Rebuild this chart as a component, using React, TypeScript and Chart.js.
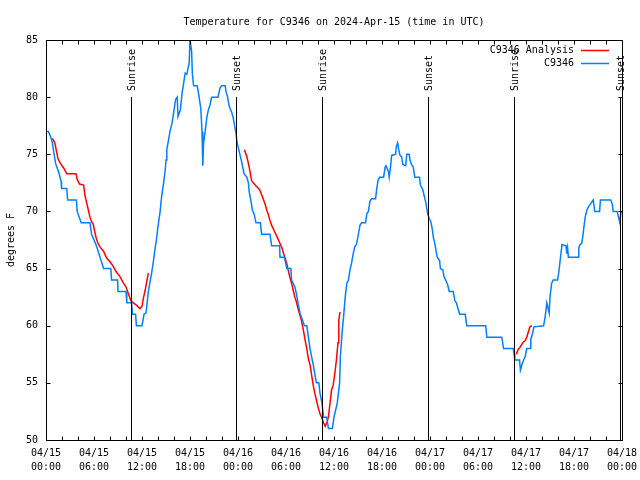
import React, { useEffect, useRef } from "react";
import { Chart, registerables } from "chart.js";

Chart.register(...registerables);

// ---- data (hours since 2024-04-15 00:00 UTC, degrees F) ----
const chartTitle = "Temperature for C9346 on 2024-Apr-15 (time in UTC)";
const yAxisTitle = "degrees F";
const seriesNames = ["C9346 Analysis", "C9346"];

const xTickHours = [0, 6, 12, 18, 24, 30, 36, 42, 48, 54, 60, 66, 72];
const xTickDates = ["04/15", "04/15", "04/15", "04/15", "04/16", "04/16", "04/16", "04/16", "04/17", "04/17", "04/17", "04/17", "04/18"];
const xTickTimes = ["00:00", "06:00", "12:00", "18:00", "00:00", "06:00", "12:00", "18:00", "00:00", "06:00", "12:00", "18:00", "00:00"];
const yTicks = [50, 55, 60, 65, 70, 75, 80, 85];

const sunEventHours = [10.6, 23.75, 34.5, 47.75, 58.5, 71.75];
const sunEventLabels = ["Sunrise", "Sunset", "Sunrise", "Sunset", "Sunrise", "Sunset"];
const sunLineTopValue = 80;

const observed: [number, number][] = [
  [0, 77], [0.3, 77], [0.6, 76.5], [0.8, 76], [0.9, 75.5], [1.2, 74.2], [1.6, 73.4], [1.9, 72.6], [1.95, 72],
  [2.6, 72], [2.7, 71], [3.8, 71], [3.9, 70], [4.4, 69], [5.5, 69], [5.7, 68], [6.3, 67], [6.75, 66],
  [7.2, 65], [8.1, 65], [8.2, 64], [8.95, 64], [9.0, 63], [10.0, 63], [10.1, 62], [10.7, 62], [10.8, 61],
  [11.2, 61], [11.3, 60], [12.0, 60], [12.25, 61], [12.5, 61.1], [12.8, 63], [13.2, 64.6], [13.4, 65.5],
  [13.6, 66.6], [13.8, 67.5], [14.0, 68.7], [14.25, 69.9], [14.45, 71.3], [14.7, 72.5], [14.9, 73.6],
  [15.0, 74.5], [15.1, 75.4], [15.3, 76.2], [15.5, 77], [15.75, 77.7], [15.95, 78.6], [16.2, 79.8],
  [16.4, 80], [16.5, 78.3], [16.8, 78.9], [17.0, 80.3], [17.2, 81.2], [17.4, 82.1], [17.6, 82], [17.9, 83],
  [18.0, 85], [18.2, 84], [18.3, 82], [18.45, 81], [18.9, 81], [19.1, 80.2], [19.35, 79], [19.5, 77],
  [19.6, 74], [19.7, 76], [19.9, 77], [20.1, 78.2], [20.3, 78.9], [20.5, 79.3], [20.7, 80], [21.5, 80],
  [21.75, 80.8], [21.95, 81], [22.4, 81], [22.5, 80.5], [22.7, 80], [22.9, 79.2], [23.2, 78.7], [23.4, 78.2],
  [23.6, 77.4], [23.75, 76.8], [23.9, 76], [24.2, 75.1], [24.5, 74.2], [24.75, 73.3], [25.1, 73],
  [25.3, 72.5], [25.4, 71.7], [25.6, 71], [25.8, 70.1], [26.0, 69.8], [26.25, 69], [26.8, 69], [26.95, 68],
  [28.0, 68], [28.2, 67], [29.2, 67], [29.25, 66], [29.8, 66], [30.1, 65], [30.6, 65], [30.7, 64],
  [31.1, 63.4], [31.3, 62.8], [31.5, 62], [31.75, 61.1], [32.3, 60], [32.6, 60], [32.8, 59], [33.0, 58],
  [33.2, 57.3], [33.4, 56.6], [33.6, 55.8], [33.8, 55], [34.1, 55], [34.25, 54.1], [34.5, 53.2], [34.7, 52],
  [35.1, 52], [35.3, 51], [35.8, 51], [36.0, 52], [36.4, 53.2], [36.5, 53.8], [36.7, 55], [36.8, 57.3],
  [37.0, 59.3], [37.2, 60.8], [37.4, 62.5], [37.6, 63.7], [37.8, 64], [38.0, 64.9], [38.2, 65.5],
  [38.4, 66.3], [38.6, 66.9], [38.8, 67.1], [39.0, 67.8], [39.25, 68.8], [39.45, 69], [39.95, 69],
  [40.1, 69.8], [40.3, 70], [40.5, 70.9], [40.7, 71.1], [41.2, 71.1], [41.33, 71.9], [41.5, 72.7],
  [41.7, 73], [42.2, 73], [42.4, 73.9], [42.5, 74], [42.8, 73.5], [42.9, 73], [43.1, 74.1], [43.2, 74.9],
  [43.7, 75], [43.8, 75.7], [43.95, 76], [44.1, 75.4], [44.25, 74.9], [44.45, 74.8], [44.6, 74.1],
  [44.96, 74], [45.1, 75], [45.4, 75], [45.5, 74.5], [45.7, 74.1], [45.9, 73.9], [46.1, 73], [46.7, 73],
  [46.8, 72.3], [47.1, 71.9], [47.3, 71.3], [47.5, 70.7], [47.7, 69.8], [47.9, 69.4], [48.1, 69.1],
  [48.3, 68.4], [48.4, 67.8], [48.6, 67.2], [48.75, 66.6], [48.9, 66], [49.2, 65.7], [49.3, 65],
  [49.6, 64.9], [49.75, 64.3], [49.95, 64], [50.2, 63.6], [50.4, 63], [50.9, 63], [51.1, 62.2], [51.3, 62],
  [51.7, 61], [52.4, 61], [52.6, 60], [54.97, 60], [55.1, 59], [56.97, 59], [57.2, 58], [58.4, 58],
  [58.5, 57.6], [58.6, 57], [59.2, 57], [59.3, 56.1], [59.5, 56.6], [59.7, 57], [59.9, 57.3], [60.1, 58],
  [60.5, 58], [60.6, 58.8], [60.8, 59.3], [61.0, 59.9], [62.2, 60], [62.4, 60.8], [62.6, 62], [62.9, 61.1],
  [63.0, 62.5], [63.2, 63.7], [63.4, 64], [63.95, 64], [64.1, 64.7], [64.25, 65.6], [64.4, 66.5],
  [64.5, 67.1], [65.0, 67], [65.1, 66.3], [65.2, 66.8], [65.3, 66], [66.5, 66], [66.6, 66.8], [66.75, 67.1],
  [66.96, 67.2], [67.1, 67.8], [67.25, 68.7], [67.4, 69.5], [67.6, 70.1], [67.8, 70.4], [68.0, 70.6],
  [68.2, 70.8], [68.4, 71], [68.6, 70], [69.2, 70], [69.3, 71], [70.6, 71], [70.8, 70.6], [70.9, 70],
  [71.4, 70], [71.5, 69.7], [71.7, 69.1], [71.9, 70],
];

const analysisSeg1: [number, number][] = [
  [0.8, 76.4], [1.1, 76], [1.3, 75.3], [1.5, 74.6], [1.8, 74.2], [2.2, 73.8], [2.6, 73.3], [3.75, 73.3],
  [3.9, 72.8], [4.2, 72.4], [4.7, 72.3], [4.9, 71.3], [5.1, 70.7], [5.3, 70.1], [5.5, 69.5], [5.7, 69.1],
  [5.9, 68.9], [6.1, 68.2], [6.3, 67.6], [6.5, 67.2], [6.75, 66.9], [7.2, 66.5], [7.6, 65.9], [8.0, 65.6],
  [8.4, 65.2], [8.8, 64.7], [9.25, 64.3], [9.7, 63.7], [10.0, 63.4], [10.3, 62.8], [10.6, 62.2],
  [10.9, 62], [11.3, 61.8], [11.75, 61.5], [12.0, 61.7], [12.2, 62.5], [12.4, 63.1], [12.6, 63.9], [12.8, 64.6],
];
const analysisSeg2: [number, number][] = [
  [24.8, 75.4], [25.1, 74.8], [25.3, 74.2], [25.5, 73.5], [25.7, 72.7], [25.9, 72.5], [26.3, 72.2],
  [26.7, 71.9], [27.0, 71.4], [27.2, 71.0], [27.4, 70.6], [27.6, 70.1], [27.8, 69.7], [28.0, 69.2],
  [28.2, 68.8], [28.4, 68.5], [28.6, 68.2], [28.8, 67.9], [29.0, 67.6], [29.25, 67.2], [29.5, 66.8],
  [29.7, 66.3], [29.9, 65.9], [30.1, 65.4], [30.3, 64.8], [30.5, 64.2], [30.7, 63.7], [30.9, 63.1],
  [31.1, 62.5], [31.3, 62.1], [31.5, 61.5], [31.75, 60.9], [31.95, 60.4], [32.2, 59.5], [32.4, 58.7],
  [32.6, 58], [32.8, 57.1], [33.0, 56.6], [33.2, 55.7], [33.4, 54.8], [33.6, 54.1], [33.8, 53.5],
  [34.0, 52.9], [34.25, 52.3], [34.5, 51.9], [34.7, 51.5], [34.9, 51.2], [35.1, 51.5], [35.3, 52],
  [35.5, 53.2], [35.7, 54.4], [35.9, 54.8], [36.1, 55.8], [36.3, 57], [36.5, 58.5], [36.6, 60.5], [36.75, 61.2],
];
const analysisSeg3: [number, number][] = [
  [58.8, 57.5], [59.0, 57.9], [59.25, 58.1], [59.5, 58.4], [59.7, 58.6], [59.9, 58.7], [60.1, 59],
  [60.3, 59.5], [60.5, 59.9], [60.75, 60],
];

const RED = "#ff0000";
const BLUE = "#0080ff";
const FONT_FAMILY = '"DejaVu Sans Mono", "Liberation Mono", monospace';
const FONT_SIZE = 10;

const toPts = (a: [number, number][]) => a.map(([x, y]) => ({ x, y }));

const gnuplotPlugin = {
  id: "gnuplotDecor",
  afterDatasetsDraw(chart: any) {
    const { ctx, chartArea, scales } = chart;
    const xs = scales.x;
    const ys = scales.y;
    ctx.save();
    ctx.strokeStyle = "#000";
    ctx.fillStyle = "#000";
    ctx.lineWidth = 1;
    ctx.font = `${FONT_SIZE}px ${FONT_FAMILY}`;
    const top = Math.round(ys.getPixelForValue(sunLineTopValue));
    sunEventHours.forEach((h, i) => {
      const x = Math.round(xs.getPixelForValue(h)) + 0.5;
      ctx.beginPath();
      ctx.moveTo(x, top);
      ctx.lineTo(x, chartArea.bottom);
      ctx.stroke();
      ctx.save();
      ctx.translate(x + 1, top - 6);
      ctx.rotate(-Math.PI / 2);
      ctx.textAlign = "left";
      ctx.textBaseline = "middle";
      ctx.fillText(sunEventLabels[i], 0, 0);
      ctx.restore();
    });
    ctx.restore();
  },
  afterDraw(chart: any) {
    const { ctx, chartArea, scales } = chart;
    const xs = scales.x;
    const ys = scales.y;
    const L = Math.round(chartArea.left) + 0.5;
    const R = Math.round(chartArea.right) + 0.5;
    const T = Math.round(chartArea.top) + 0.5;
    const B = Math.round(chartArea.bottom) + 0.5;
    ctx.save();
    ctx.strokeStyle = "#000";
    ctx.lineWidth = 1;
    ctx.beginPath();
    ctx.rect(L, T, R - L, B - T);
    ctx.stroke();
    ctx.beginPath();
    for (let h = 0; h <= 72; h += 2) {
      const x = Math.round(xs.getPixelForValue(h)) + 0.5;
      ctx.moveTo(x, B);
      ctx.lineTo(x, B - 4);
      ctx.moveTo(x, T);
      ctx.lineTo(x, T + 4);
    }
    yTicks.forEach((v) => {
      const y = Math.round(ys.getPixelForValue(v)) + 0.5;
      ctx.moveTo(L, y);
      ctx.lineTo(L + 4, y);
      ctx.moveTo(R, y);
      ctx.lineTo(R - 4, y);
    });
    ctx.stroke();

    ctx.fillStyle = "#000";
    ctx.font = `${FONT_SIZE}px ${FONT_FAMILY}`;
    ctx.textAlign = "center";
    ctx.textBaseline = "middle";
    ctx.fillText(chartTitle, (chartArea.left + chartArea.right) / 2, 22);
    ctx.save();
    ctx.translate(11, (chartArea.top + chartArea.bottom) / 2);
    ctx.rotate(-Math.PI / 2);
    ctx.fillText(yAxisTitle, 0, 0);
    ctx.restore();
    const colors = [RED, BLUE];
    seriesNames.forEach((name, i) => {
      const y = 50 + i * 13;
      ctx.fillStyle = "#000";
      ctx.textAlign = "right";
      ctx.fillText(name, 574, y);
      ctx.strokeStyle = colors[i];
      ctx.lineWidth = 1.5;
      ctx.beginPath();
      ctx.moveTo(581, y + 0.5);
      ctx.lineTo(609, y + 0.5);
      ctx.stroke();
    });
    ctx.restore();
  },
};

export default function App() {
  const canvasRef = useRef<HTMLCanvasElement | null>(null);

  useEffect(() => {
    if (!canvasRef.current) return;
    const redData: any[] = [
      ...toPts(analysisSeg1),
      { x: 18, y: null },
      ...toPts(analysisSeg2),
      { x: 48, y: null },
      ...toPts(analysisSeg3),
    ];
    const font = { family: FONT_FAMILY, size: FONT_SIZE, lineHeight: 1.4 };
    const chart = new Chart(canvasRef.current, {
      type: "line",
      data: {
        datasets: [
          {
            label: seriesNames[0],
            data: redData,
            borderColor: RED,
            borderWidth: 1.5,
            pointRadius: 0,
            spanGaps: false,
            fill: false,
            tension: 0,
            order: 1,
          },
          {
            label: seriesNames[1],
            data: toPts(observed),
            borderColor: BLUE,
            borderWidth: 1.5,
            pointRadius: 0,
            fill: false,
            tension: 0,
            order: 0,
          },
        ],
      },
      options: {
        animation: false,
        responsive: false,
        devicePixelRatio: 1,
        layout: { padding: { top: 40, right: 18, left: 0, bottom: 0 } },
        plugins: {
          legend: { display: false },
          tooltip: { enabled: false },
          title: { display: false },
        },
        events: [],
        scales: {
          x: {
            type: "linear",
            min: 0,
            max: 72,
            afterBuildTicks: (s: any) => {
              s.ticks = xTickHours.map((v) => ({ value: v }));
            },
            afterFit: (s: any) => {
              s.height = 40;
              s.paddingLeft = 0;
              s.paddingRight = 0;
            },
            ticks: {
              autoSkip: false,
              maxRotation: 0,
              minRotation: 0,
              padding: 6,
              color: "#000",
              font,
              callback: (_v: any, i: number) => [xTickDates[i], xTickTimes[i]],
            },
            grid: { display: false, drawTicks: false },
            border: { display: false },
          },
          y: {
            type: "linear",
            min: 50,
            max: 85,
            afterBuildTicks: (s: any) => {
              s.ticks = yTicks.map((v) => ({ value: v }));
            },
            afterFit: (s: any) => {
              s.width = 46;
              s.paddingTop = 0;
              s.paddingBottom = 0;
            },
            ticks: {
              padding: 8,
              color: "#000",
              font: { family: FONT_FAMILY, size: FONT_SIZE },
              callback: (v: any) => String(v),
            },
            grid: { display: false, drawTicks: false },
            border: { display: false },
          },
        },
      },
      plugins: [gnuplotPlugin],
    } as any);
    return () => chart.destroy();
  }, []);

  return (
    <div style={{ position: "fixed", left: 0, top: 0, width: 640, height: 480, background: "#fff" }}>
      <canvas ref={canvasRef} width={640} height={480} style={{ display: "block" }} />
    </div>
  );
}
